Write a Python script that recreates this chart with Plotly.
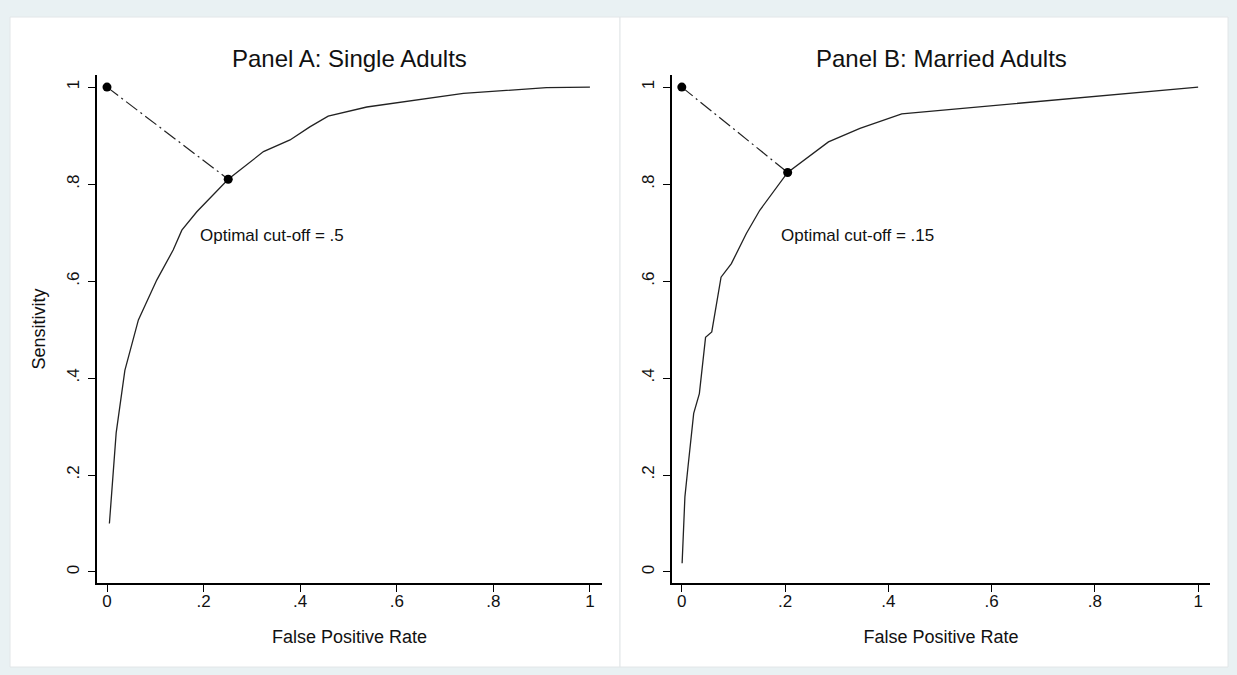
import plotly.graph_objects as go

# Panel A: Single Adults ROC curve
fpr_single = [0.005, 0.013, 0.019, 0.037, 0.065, 0.103, 0.137, 0.155, 0.186, 0.251,
              0.324, 0.379, 0.42, 0.458, 0.538, 0.738, 0.91, 1.0]
sens_single = [0.10, 0.21, 0.287, 0.416, 0.52, 0.602, 0.664, 0.705, 0.743, 0.81,
               0.867, 0.891, 0.918, 0.940, 0.959, 0.987, 0.999, 1.0]
opt_single = [0.251, 0.81]

# Panel B: Married Adults ROC curve
fpr_married = [0.0006, 0.006, 0.012, 0.023, 0.034, 0.046, 0.058, 0.076, 0.096, 0.109,
               0.125, 0.151, 0.205, 0.284, 0.345, 0.426, 1.0]
sens_married = [0.018, 0.155, 0.217, 0.327, 0.368, 0.484, 0.495, 0.608, 0.636, 0.664,
                0.698, 0.746, 0.824, 0.887, 0.915, 0.945, 1.0]
opt_married = [0.205, 0.824]

ideal_point = [0.0, 1.0]

tick_vals = [0, 0.2, 0.4, 0.6, 0.8, 1]
tick_text = ["0", ".2", ".4", ".6", ".8", "1"]

titles = ["Panel A: Single Adults", "Panel B: Married Adults"]
notes = ["Optimal cut-off = .5", "Optimal cut-off = .15"]

FONT = "Liberation Sans, Arial, sans-serif"
BG = "#e9f1f3"
W, H = 1237, 675

fig = go.Figure()

panels = [
    (fpr_single, sens_single, opt_single, "x", "y"),
    (fpr_married, sens_married, opt_married, "x2", "y2"),
]
for fx, sy, opt, xa, ya in panels:
    fig.add_trace(go.Scatter(x=[ideal_point[0], opt[0]], y=[ideal_point[1], opt[1]],
                             mode="lines", line=dict(color="#222", width=1.2, dash="14px,4px,2px,4px"),
                             xaxis=xa, yaxis=ya, showlegend=False, hoverinfo="skip"))
    fig.add_trace(go.Scatter(x=fx, y=sy, mode="lines", line=dict(color="#222", width=1.3),
                             xaxis=xa, yaxis=ya, showlegend=False))
    fig.add_trace(go.Scatter(x=[ideal_point[0], opt[0]], y=[ideal_point[1], opt[1]],
                             mode="markers", marker=dict(color="black", size=9),
                             xaxis=xa, yaxis=ya, showlegend=False))

def px(x):
    return x / W

def py(y):
    return 1 - y / H

dom_a = [px(97), px(602)]
dom_b = [px(672), px(1210)]
dom_y = [py(583), py(75)]

axis_common = dict(
    showgrid=False, zeroline=False, showline=True, linecolor="black", linewidth=1.5,
    ticks="outside", ticklen=7, tickwidth=1.3, tickcolor="black",
    tickvals=tick_vals, ticktext=tick_text,
    tickfont=dict(family=FONT, size=17, color="#111"),
    mirror=False,
)

fig.update_layout(
    width=W, height=H,
    margin=dict(l=0, r=0, t=0, b=0),
    paper_bgcolor=BG,
    plot_bgcolor="white",
    font=dict(family=FONT, color="#111"),
    xaxis=dict(domain=dom_a, range=[-0.0207, 1.025], anchor="y", ticklabelstandoff=-5,
               title=dict(text="False Positive Rate", font=dict(family=FONT, size=18), standoff=20),
               **axis_common),
    yaxis=dict(domain=dom_y, range=[-0.0227, 1.025], anchor="x", tickangle=-90,
               ticklabelstandoff=2,
               title=dict(text="Sensitivity", font=dict(family=FONT, size=18), standoff=14),
               **axis_common),
    xaxis2=dict(domain=dom_b, range=[-0.019, 1.023], anchor="y2", ticklabelstandoff=-5,
                title=dict(text="False Positive Rate", font=dict(family=FONT, size=18), standoff=20),
                **axis_common),
    yaxis2=dict(domain=dom_y, range=[-0.0227, 1.025], anchor="x2", tickangle=-90,
                ticklabelstandoff=2,
                **axis_common),
)

# White panel backgrounds
fig.add_shape(type="rect", xref="paper", yref="paper", x0=px(10), x1=px(620), y0=py(667), y1=py(17),
              fillcolor="white", line=dict(color="#e2e6e8", width=1), layer="below")
fig.add_shape(type="rect", xref="paper", yref="paper", x0=px(620), x1=px(1228), y0=py(667), y1=py(17),
              fillcolor="white", line=dict(color="#e2e6e8", width=1), layer="below")

# Titles
for t, dom in zip(titles, [dom_a, dom_b]):
    fig.add_annotation(text=t, xref="paper", yref="paper", x=(dom[0] + dom[1]) / 2, y=py(58),
                       showarrow=False, font=dict(family=FONT, size=24, color="#111"),
                       xanchor="center", yanchor="middle")

# Optimal cut-off notes
for note, xa, ya in zip(notes, ["x", "x2"], ["y", "y2"]):
    fig.add_annotation(text=note, xref=xa, yref=ya, x=0.188, y=0.695, showarrow=False,
                       xanchor="left", yanchor="middle", font=dict(family=FONT, size=17, color="#111"))

fig.write_html(
    "out.html",
    config={"displayModeBar": False},
    post_script="document.body.style.margin='0';document.body.style.background='" + BG + "';",
)
